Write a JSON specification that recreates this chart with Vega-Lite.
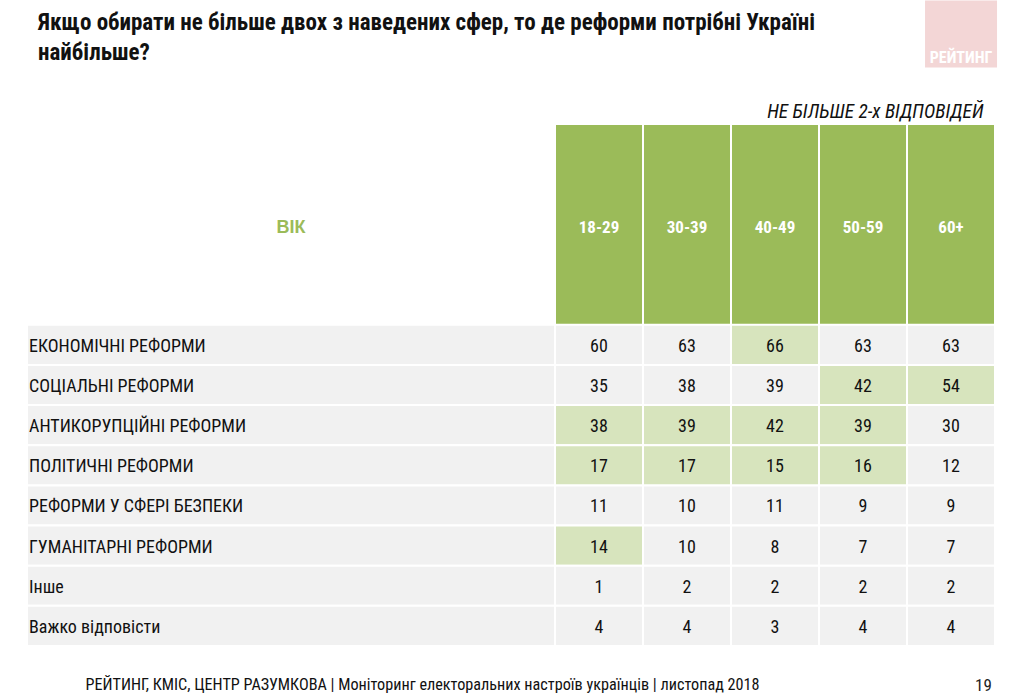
{
  "$schema": "https://vega.github.io/schema/vega-lite/v6.json",
  "width": 968,
  "height": 522,
  "autosize": {"type": "none"},
  "padding": {"left": 27, "top": 124, "right": 29, "bottom": 52},
  "background": "white",
  "config": {
    "view": {"stroke": null},
    "font": "Liberation Sans Narrow, Arial Narrow, Roboto Condensed, DejaVu Sans Condensed, sans-serif",
    "text": {"font": "Liberation Sans Narrow, Arial Narrow, Roboto Condensed, DejaVu Sans Condensed, sans-serif"}
  },
  "datasets": {
    "items": [
      {"item": "ЕКОНОМІЧНІ РЕФОРМИ"},
      {"item": "СОЦІАЛЬНІ РЕФОРМИ"},
      {"item": "АНТИКОРУПЦІЙНІ РЕФОРМИ"},
      {"item": "ПОЛІТИЧНІ РЕФОРМИ"},
      {"item": "РЕФОРМИ У СФЕРІ БЕЗПЕКИ"},
      {"item": "ГУМАНІТАРНІ РЕФОРМИ"},
      {"item": "Інше"},
      {"item": "Важко відповісти"}
    ],
    "ages": [
      {"age": "18-29"}, {"age": "30-39"}, {"age": "40-49"}, {"age": "50-59"}, {"age": "60+"}
    ],
    "cells": [
      {"item": "ЕКОНОМІЧНІ РЕФОРМИ", "age": "18-29", "value": 60, "hl": 0},
      {"item": "ЕКОНОМІЧНІ РЕФОРМИ", "age": "30-39", "value": 63, "hl": 0},
      {"item": "ЕКОНОМІЧНІ РЕФОРМИ", "age": "40-49", "value": 66, "hl": 1},
      {"item": "ЕКОНОМІЧНІ РЕФОРМИ", "age": "50-59", "value": 63, "hl": 0},
      {"item": "ЕКОНОМІЧНІ РЕФОРМИ", "age": "60+", "value": 63, "hl": 0},
      {"item": "СОЦІАЛЬНІ РЕФОРМИ", "age": "18-29", "value": 35, "hl": 0},
      {"item": "СОЦІАЛЬНІ РЕФОРМИ", "age": "30-39", "value": 38, "hl": 0},
      {"item": "СОЦІАЛЬНІ РЕФОРМИ", "age": "40-49", "value": 39, "hl": 0},
      {"item": "СОЦІАЛЬНІ РЕФОРМИ", "age": "50-59", "value": 42, "hl": 1},
      {"item": "СОЦІАЛЬНІ РЕФОРМИ", "age": "60+", "value": 54, "hl": 1},
      {"item": "АНТИКОРУПЦІЙНІ РЕФОРМИ", "age": "18-29", "value": 38, "hl": 1},
      {"item": "АНТИКОРУПЦІЙНІ РЕФОРМИ", "age": "30-39", "value": 39, "hl": 1},
      {"item": "АНТИКОРУПЦІЙНІ РЕФОРМИ", "age": "40-49", "value": 42, "hl": 1},
      {"item": "АНТИКОРУПЦІЙНІ РЕФОРМИ", "age": "50-59", "value": 39, "hl": 1},
      {"item": "АНТИКОРУПЦІЙНІ РЕФОРМИ", "age": "60+", "value": 30, "hl": 0},
      {"item": "ПОЛІТИЧНІ РЕФОРМИ", "age": "18-29", "value": 17, "hl": 1},
      {"item": "ПОЛІТИЧНІ РЕФОРМИ", "age": "30-39", "value": 17, "hl": 1},
      {"item": "ПОЛІТИЧНІ РЕФОРМИ", "age": "40-49", "value": 15, "hl": 1},
      {"item": "ПОЛІТИЧНІ РЕФОРМИ", "age": "50-59", "value": 16, "hl": 1},
      {"item": "ПОЛІТИЧНІ РЕФОРМИ", "age": "60+", "value": 12, "hl": 0},
      {"item": "РЕФОРМИ У СФЕРІ БЕЗПЕКИ", "age": "18-29", "value": 11, "hl": 0},
      {"item": "РЕФОРМИ У СФЕРІ БЕЗПЕКИ", "age": "30-39", "value": 10, "hl": 0},
      {"item": "РЕФОРМИ У СФЕРІ БЕЗПЕКИ", "age": "40-49", "value": 11, "hl": 0},
      {"item": "РЕФОРМИ У СФЕРІ БЕЗПЕКИ", "age": "50-59", "value": 9, "hl": 0},
      {"item": "РЕФОРМИ У СФЕРІ БЕЗПЕКИ", "age": "60+", "value": 9, "hl": 0},
      {"item": "ГУМАНІТАРНІ РЕФОРМИ", "age": "18-29", "value": 14, "hl": 1},
      {"item": "ГУМАНІТАРНІ РЕФОРМИ", "age": "30-39", "value": 10, "hl": 0},
      {"item": "ГУМАНІТАРНІ РЕФОРМИ", "age": "40-49", "value": 8, "hl": 0},
      {"item": "ГУМАНІТАРНІ РЕФОРМИ", "age": "50-59", "value": 7, "hl": 0},
      {"item": "ГУМАНІТАРНІ РЕФОРМИ", "age": "60+", "value": 7, "hl": 0},
      {"item": "Інше", "age": "18-29", "value": 1, "hl": 0},
      {"item": "Інше", "age": "30-39", "value": 2, "hl": 0},
      {"item": "Інше", "age": "40-49", "value": 2, "hl": 0},
      {"item": "Інше", "age": "50-59", "value": 2, "hl": 0},
      {"item": "Інше", "age": "60+", "value": 2, "hl": 0},
      {"item": "Важко відповісти", "age": "18-29", "value": 4, "hl": 0},
      {"item": "Важко відповісти", "age": "30-39", "value": 4, "hl": 0},
      {"item": "Важко відповісти", "age": "40-49", "value": 3, "hl": 0},
      {"item": "Важко відповісти", "age": "50-59", "value": 4, "hl": 0},
      {"item": "Важко відповісти", "age": "60+", "value": 4, "hl": 0}
    ],
    "single": [{"t": "ВІК", "logo": "РЕЙТИНГ", "title": "Якщо обирати не більше двох з наведених сфер, то де реформи потрібні Україні\nнайбільше?"}]
  },
  "resolve": {"axis": {"x": "independent", "y": "independent"}},
  "layer": [
    {
      "data": {"name": "items"},
      "mark": {"type": "rect", "fill": "#f1f1f1", "stroke": "white", "strokeWidth": 2},
      "encoding": {
        "y": {
          "field": "item", "type": "nominal", "sort": null,
          "scale": {"domain": ["_h1","_h2","_h3","_h4","_h5","ЕКОНОМІЧНІ РЕФОРМИ","СОЦІАЛЬНІ РЕФОРМИ","АНТИКОРУПЦІЙНІ РЕФОРМИ","ПОЛІТИЧНІ РЕФОРМИ","РЕФОРМИ У СФЕРІ БЕЗПЕКИ","ГУМАНІТАРНІ РЕФОРМИ","Інше","Важко відповісти"], "paddingInner": 0, "paddingOuter": 0},
          "axis": {
            "orient": "right", "labels": false, "ticks": false, "domain": false, "grid": false,
            "title": "19", "titleAngle": 0, "titleX": -12, "titleY": 561,
            "titleAlign": "center", "titleBaseline": "middle",
            "titleFontSize": 17, "titleFontWeight": "normal", "titleColor": "#222222",
            "titleFont": "Liberation Sans Narrow, Arial Narrow, Roboto Condensed, DejaVu Sans Condensed, sans-serif"
          }
        }
      }
    },
    {
      "data": {"name": "ages"},
      "mark": {"type": "rect", "fill": "#9bbb59", "stroke": "white", "strokeWidth": 2},
      "encoding": {
        "x": {
          "field": "age", "type": "nominal", "sort": null,
          "scale": {"domain": ["_1","_2","_3","_4","_5","_6","18-29","30-39","40-49","50-59","60+"], "paddingInner": 0, "paddingOuter": 0},
          "axis": {
            "orient": "top", "labels": false, "ticks": false, "domain": false, "grid": false,
            "title": "НЕ БІЛЬШЕ 2-х ВІДПОВІДЕЙ", "titleAnchor": "end", "titleX": 956, "titleAlign": "right",
            "titlePadding": 3, "titleFontSize": 19.3, "titleFontStyle": "italic", "titleFontWeight": "normal",
            "titleColor": "#111111",
            "titleFont": "Liberation Sans Narrow, Arial Narrow, Roboto Condensed, DejaVu Sans Condensed, sans-serif"
          }
        }
      }
    },
    {
      "data": {"name": "cells"},
      "mark": {"type": "rect", "stroke": "white", "strokeWidth": 2},
      "encoding": {
        "x": {
          "field": "age", "type": "nominal", "sort": null,
          "axis": {
            "orient": "bottom", "labels": false, "ticks": false, "domain": false, "grid": false,
            "title": "РЕЙТИНГ, КМІС, ЦЕНТР РАЗУМКОВА |  Моніторинг електоральних настроїв українців | листопад 2018",
            "titleAnchor": "start", "titleX": 58, "titleY": 38, "titleAlign": "left", "titleBaseline": "middle",
            "titleFontSize": 16.2, "titleFontWeight": "normal", "titleColor": "#111111",
            "titleFont": "Liberation Sans Narrow, Arial Narrow, Roboto Condensed, DejaVu Sans Condensed, sans-serif"
          }
        },
        "y": {"field": "item", "type": "nominal", "sort": null, "axis": null},
        "fill": {"condition": {"test": "datum.hl === 1", "value": "#d7e4bd"}, "value": "#f1f1f1"}
      }
    },
    {
      "data": {"name": "cells"},
      "mark": {"type": "text", "fontSize": 18, "color": "#111111", "baseline": "middle", "dy": 2},
      "encoding": {
        "x": {"field": "age", "type": "nominal", "sort": null, "axis": null},
        "y": {"field": "item", "type": "nominal", "sort": null, "axis": null},
        "text": {"field": "value", "type": "quantitative"}
      }
    },
    {
      "data": {"name": "items"},
      "mark": {"type": "text", "fontSize": 18, "color": "#111111", "align": "left", "baseline": "middle", "dx": 2, "dy": 2},
      "encoding": {
        "x": {"datum": "_1", "type": "nominal", "bandPosition": 0, "axis": null},
        "y": {"field": "item", "type": "nominal", "sort": null, "axis": null},
        "text": {"field": "item", "type": "nominal"}
      }
    },
    {
      "data": {"name": "ages"},
      "mark": {"type": "text", "fontSize": 17, "fontWeight": "bold", "color": "white", "baseline": "middle", "dy": 4},
      "encoding": {
        "x": {"field": "age", "type": "nominal", "sort": null, "axis": null},
        "y": {"datum": "_h3", "type": "nominal", "bandPosition": 0.5, "axis": null},
        "text": {"field": "age", "type": "nominal"}
      }
    },
    {
      "data": {"name": "single"},
      "mark": {"type": "text", "fontSize": 18, "fontWeight": "bold", "color": "#9bbb59", "baseline": "middle", "dy": 4, "font": "Liberation Sans, Arial, sans-serif"},
      "encoding": {
        "x": {"datum": "_4", "type": "nominal", "bandPosition": 0, "axis": null},
        "y": {"datum": "_h3", "type": "nominal", "bandPosition": 0.5, "axis": null},
        "text": {"field": "t", "type": "nominal"}
      }
    },
    {
      "data": {"name": "single"},
      "mark": {"type": "point", "filled": true, "opacity": 1, "color": "#f3d6d6", "size": 5184, "shape": "M-1,-0.93L1,-0.93L1,0.93L-1,0.93Z", "strokeWidth": 0},
      "encoding": {
        "x": {"datum": "60+", "type": "nominal", "bandPosition": 0.614, "axis": null},
        "y": {"datum": "_h1", "type": "nominal", "bandPosition": -2.24, "axis": null}
      }
    },
    {
      "data": {"name": "single"},
      "mark": {"type": "text", "fontSize": 16, "fontWeight": "bold", "color": "white", "baseline": "middle"},
      "encoding": {
        "x": {"datum": "60+", "type": "nominal", "bandPosition": 0.614, "axis": null},
        "y": {"datum": "_h1", "type": "nominal", "bandPosition": -1.64, "axis": null},
        "text": {"field": "logo", "type": "nominal"}
      }
    },
    {
      "data": {"name": "single"},
      "mark": {"type": "text", "fontSize": 23, "fontWeight": "bold", "color": "#111111", "align": "left", "baseline": "alphabetic", "lineBreak": "\n", "lineHeight": 30, "dx": 11},
      "encoding": {
        "x": {"datum": "_1", "type": "nominal", "bandPosition": 0, "axis": null},
        "y": {"datum": "_h1", "type": "nominal", "bandPosition": -2.33, "axis": null},
        "text": {"field": "title", "type": "nominal"}
      }
    }
  ]
}
